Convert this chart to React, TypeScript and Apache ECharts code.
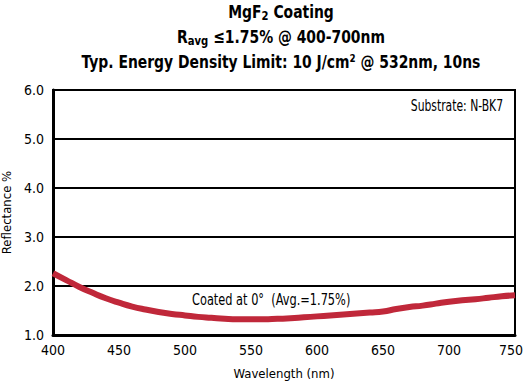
import React, { useEffect, useRef } from "react";
import * as echarts from "echarts";

const wavelengths = [400, 410, 420, 430, 440, 450, 460, 470, 480, 490, 500, 510, 520, 530, 540, 550, 560, 570, 580, 590, 600, 610, 620, 630, 640, 650, 660, 670, 680, 690, 700, 710, 720, 730, 740, 750];
const reflectance = [2.26, 2.12, 1.98, 1.86, 1.75, 1.66, 1.58, 1.52, 1.47, 1.43, 1.40, 1.37, 1.35, 1.33, 1.32, 1.32, 1.32, 1.33, 1.34, 1.36, 1.38, 1.40, 1.42, 1.44, 1.46, 1.48, 1.53, 1.57, 1.60, 1.64, 1.68, 1.71, 1.73, 1.76, 1.79, 1.81];
const xTicks = [400, 450, 500, 550, 600, 650, 700, 750];
const yTicks = [1.0, 2.0, 3.0, 4.0, 5.0, 6.0];
const titleLines = [
  "{b|MgF}{s|2}{b| Coating}",
  "{b|R}{s|avg}{b| ≤1.75% @ 400-700nm}",
  "{b|Typ. Energy Density Limit: 10 J/cm² @ 532nm, 10ns}",
];

const FONT = "'DejaVu Sans Condensed', 'DejaVu Sans', sans-serif";

export default function App() {
  const ref = useRef<HTMLDivElement>(null);
  useEffect(() => {
    document.body.style.margin = "0";
    const chart = echarts.init(ref.current!, null, { renderer: "svg" });
    const data = wavelengths.map((w, i) => [w, reflectance[i]]);
    const rich = {
      b: { fontFamily: FONT, fontSize: 18, fontWeight: "bold", fill: "#000", lineHeight: 22 },
      s: { fontFamily: FONT, fontSize: 13, fontWeight: "bold", fill: "#000", lineHeight: 22, padding: [8, 0, 0, 0] },
    };
    const xMax = xTicks[xTicks.length - 1];
    chart.setOption({
      animation: false,
      backgroundColor: "#fff",
      textStyle: { fontFamily: FONT, color: "#000" },
      grid: {
        left: 53,
        right: 9,
        top: 90,
        bottom: 49,
        show: true,
        borderColor: "#000",
        borderWidth: 2,
        containLabel: false,
        outerBoundsMode: "none",
      },
      xAxis: {
        type: "value",
        min: xTicks[0],
        max: xMax,
        interval: 50,
        name: "Wavelength (nm)",
        nameLocation: "middle",
        nameGap: 32,
        nameTextStyle: { fontFamily: FONT, fontSize: 13, color: "#000" },
        axisLine: { show: true, lineStyle: { color: "#000", width: 3 } },
        axisTick: { show: false },
        splitLine: { show: false },
        axisLabel: {
          fontFamily: FONT,
          fontSize: 14,
          color: "#000",
          margin: 8,
          formatter: (v: number) => (v === xMax ? `{r|${v}}` : `${v}`),
          rich: { r: { fontFamily: FONT, fontSize: 14, color: "#000", padding: [0, 8, 0, 0] } },
        },
      },
      yAxis: {
        type: "value",
        min: yTicks[0],
        max: yTicks[yTicks.length - 1],
        interval: 1,
        name: "Reflectance %",
        nameLocation: "middle",
        nameGap: 38,
        nameTextStyle: { fontFamily: FONT, fontSize: 13, color: "#000" },
        axisLine: { show: true, lineStyle: { color: "#000", width: 3 } },
        axisTick: { show: false },
        splitLine: { show: true, lineStyle: { color: "#000", width: 2 } },
        axisLabel: {
          fontFamily: FONT,
          fontSize: 14,
          color: "#000",
          margin: 9,
          formatter: (v: number) => v.toFixed(1),
        },
      },
      graphic: [
        ...titleLines.map((t, i) => ({
          type: "text",
          x: 281,
          y: 1 + i * 25,
          scaleX: 0.86,
          style: { text: t, rich, align: "center", verticalAlign: "top" },
        })),
        {
          type: "text",
          x: 503,
          y: 97,
          scaleX: 0.75,
          style: { text: "Substrate: N-BK7", font: `16px ${FONT}`, fill: "#000", align: "right", verticalAlign: "top" },
        },
        {
          type: "text",
          x: 192,
          y: 291,
          scaleX: 0.79,
          style: { text: "Coated at 0°  (Avg.=1.75%)", font: `16px ${FONT}`, fill: "#000", align: "left", verticalAlign: "top" },
        },
      ],
      series: [
        {
          type: "line",
          data,
          smooth: true,
          showSymbol: false,
          lineStyle: { color: "#c0283a", width: 6 },
          z: 5,
        },
      ],
    });
    return () => chart.dispose();
  }, []);
  return <div ref={ref} style={{ width: 524, height: 384 }} />;
}
